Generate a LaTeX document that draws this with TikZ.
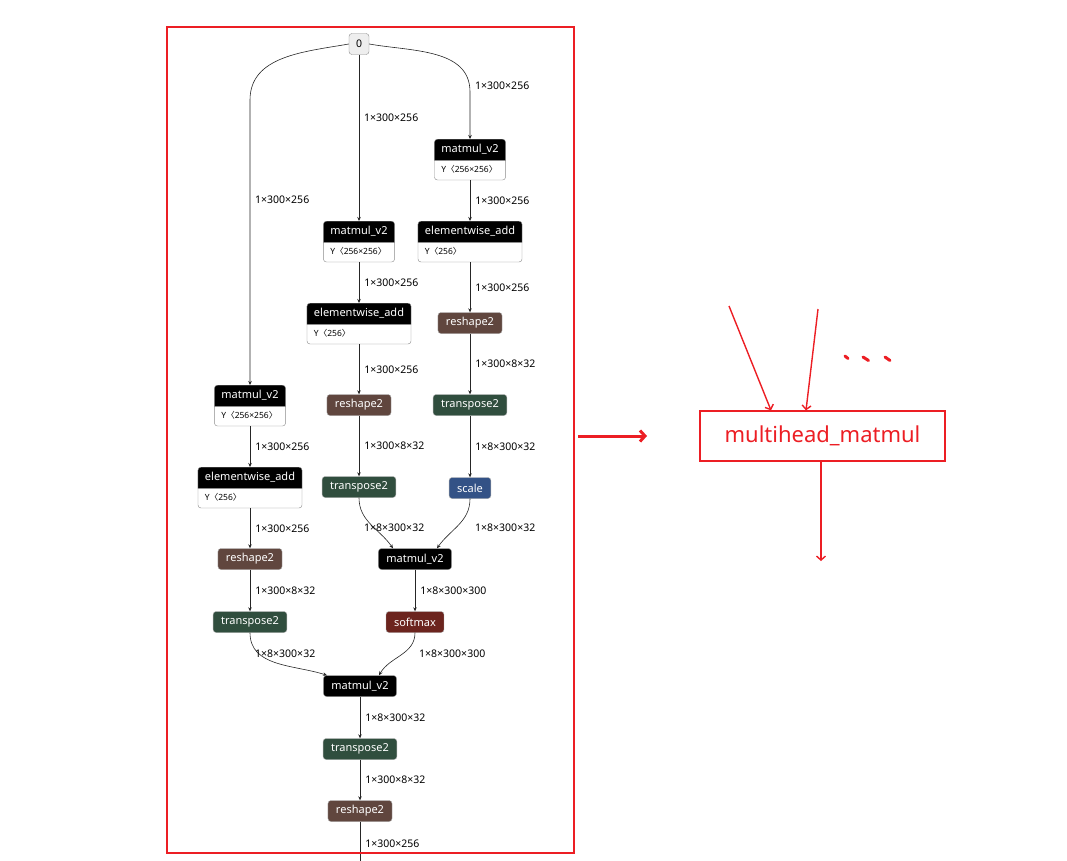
\documentclass[tikz,border=0pt]{standalone}
\usepackage{fontspec}
\setmainfont{Noto Sans}
\newfontfamily\cjk{Noto Sans CJK SC}
\usetikzlibrary{arrows.meta,shapes.multipart}
\definecolor{markred}{RGB}{236,30,36}
\definecolor{shapec}{RGB}{96,70,62}
\definecolor{transc}{RGB}{48,78,62}
\definecolor{scalec}{RGB}{51,82,134}
\definecolor{softc}{RGB}{108,36,30}
\newcommand{\ophead}[1]{\rule[-3pt]{0pt}{12pt}#1}
\newcommand{\ybody}[1]{\rule[-2.5pt]{0pt}{10pt}{\fontsize{8.5}{10}\selectfont\color{black}\textbf{Y}{\cjk 〈}#1{\cjk 〉}}}

\begin{document}
\begin{tikzpicture}[x=1pt,y=-1pt,
    every node/.style={font=\fontsize{11}{13}\selectfont},
    op/.style={rounded corners=3pt,draw=gray!70,text=white,minimum height=21pt,inner xsep=8pt,inner ysep=2pt},
    opblack/.style={op,fill=black},
    opshape/.style={op,fill=shapec},
    optrans/.style={op,fill=transc},
    opscale/.style={op,fill=scalec},
    opsoft/.style={op,fill=softc},
    wop/.style={rectangle split,rectangle split parts=2,rectangle split part fill={black,white},
        rectangle split part align=left,draw=gray!90,rounded corners=3pt,text=white,
        anchor=north,inner xsep=7pt,inner ysep=4.5pt},
    inp/.style={rounded corners=3pt,draw=gray!90,fill=gray!13,minimum width=20pt,minimum height=21pt,
        inner sep=2pt,font=\fontsize{10.5}{12}\selectfont},
    edge/.style={draw=black!85,line width=0.6pt,-{Stealth[length=4pt,width=3.5pt]}},
    lbl/.style={right=4pt,inner sep=1pt,font=\fontsize{10.5}{12}\selectfont},
    redline/.style={draw=markred},
    redarrow/.style={draw=markred,line width=1.4pt,-{Straight Barb[length=4pt,width=9pt]}},
    redbox/.style={draw=markred,text=markred,line width=1.3pt,minimum width=245pt,minimum height=50pt,
        inner sep=0pt,font=\fontsize{22}{26}\selectfont}]
\useasboundingbox (0,0) rectangle (1067,860);

% input
\node[inp] (zero) at (359,44) {0};
\coordinate (lbend) at (250,100);
\coordinate (rbend) at (470,92);
\coordinate (outc) at (360,866);

% right branch
\node[wop] (rmat) at (470,139) {\ophead{matmul\_v2}\nodepart{two}\ybody{256×256}};
\node[wop] (radd) at (470,221) {\ophead{elementwise\_add}\nodepart{two}\ybody{256}};
\node[opshape] (rresh) at (470,323) {reshape2};
\node[optrans] (rtrans) at (470,405) {transpose2};
\node[opscale] (scale) at (470,488) {scale};

% middle branch
\node[wop] (mmat) at (359,221) {\ophead{matmul\_v2}\nodepart{two}\ybody{256×256}};
\node[wop] (madd) at (359,303) {\ophead{elementwise\_add}\nodepart{two}\ybody{256}};
\node[opshape] (mresh) at (359,405) {reshape2};
\node[optrans] (mtrans) at (359,487) {transpose2};
\node[opblack] (qk) at (415,559) {matmul\_v2};
\node[opsoft] (soft) at (415,622) {softmax};

% left branch
\node[wop] (lmat) at (250,385) {\ophead{matmul\_v2}\nodepart{two}\ybody{256×256}};
\node[wop] (ladd) at (250,467) {\ophead{elementwise\_add}\nodepart{two}\ybody{256}};
\node[opshape] (lresh) at (250,559) {reshape2};
\node[optrans] (ltrans) at (250,622) {transpose2};

% output
\node[opblack] (fmat) at (360,686) {matmul\_v2};
\node[optrans] (ftrans) at (360,749) {transpose2};
\node[opshape] (fresh) at (360,811) {reshape2};

% edges
\draw[edge] (zero.west) to[out=190,in=90] (lbend) -- (lmat);
\node[lbl] at (250,200) {1×300×256};
\draw[edge] (zero) -- (mmat);
\node[lbl] at (359,118) {1×300×256};
\draw[edge] (zero.east) to[out=-10,in=90] (rbend) -- (rmat);
\node[lbl] at (470,86) {1×300×256};

\draw[edge] (rmat) -- node[lbl]{1×300×256} (radd);
\draw[edge] (radd) -- node[lbl]{1×300×256} (rresh);
\draw[edge] (rresh) -- node[lbl]{1×300×8×32} (rtrans);
\draw[edge] (rtrans) -- node[lbl]{1×8×300×32} (scale);
\draw[edge] (scale.south) to[out=-90,in=55] ([xshift=22pt]qk.north);
\node[lbl] at (470,528) {1×8×300×32};

\draw[edge] (mmat) -- node[lbl]{1×300×256} (madd);
\draw[edge] (madd) -- node[lbl]{1×300×256} (mresh);
\draw[edge] (mresh) -- node[lbl]{1×300×8×32} (mtrans);
\draw[edge] (mtrans.south) to[out=-90,in=125] ([xshift=-22pt]qk.north);
\node[lbl] at (359,528) {1×8×300×32};
\draw[edge] (qk) -- node[lbl]{1×8×300×300} (soft);
\draw[edge] (soft.south) to[out=-90,in=60] ([xshift=19pt]fmat.north);
\node[lbl] at (414,654) {1×8×300×300};

\draw[edge] (lmat) -- node[lbl]{1×300×256} (ladd);
\draw[edge] (ladd) -- node[lbl]{1×300×256} (lresh);
\draw[edge] (lresh) -- node[lbl]{1×300×8×32} (ltrans);
\draw[edge] (ltrans.south) to[out=-90,in=162] ([xshift=-33pt]fmat.north);
\node[lbl] at (250,654) {1×8×300×32};

\draw[edge] (fmat) -- node[lbl]{1×8×300×32} (ftrans);
\draw[edge] (ftrans) -- node[lbl]{1×300×8×32} (fresh);
\draw[edge] (fresh) -- node[lbl]{1×300×256} (outc);

% fused op
\draw[redline,line width=1.8pt] (167,27) rectangle (574,853);
\coordinate (bigA) at (578,436);
\coordinate (bigB) at (647,436);
\draw[redline,line width=3pt,-{Straight Barb[length=5pt,width=11pt]}] (bigA) -- (bigB);
\node[redbox] (mh) at (822.5,436) {multihead\_matmul};
\coordinate (inA) at (729,306);
\coordinate (inB) at (818,309);
\coordinate (outA) at (821,561);
\draw[redarrow] (inA) -- ([xshift=-51.5pt]mh.north);
\draw[redarrow] (inB) -- ([xshift=-16.5pt]mh.north);
\draw[redarrow] ([xshift=-1.5pt]mh.south) -- (outA);
\draw[redline,line width=3pt,line cap=round] (845,356) -- (848,358.5) (863,357) -- (868.5,360.5) (885,357) -- (890,360.5);
\end{tikzpicture}
\end{document}
